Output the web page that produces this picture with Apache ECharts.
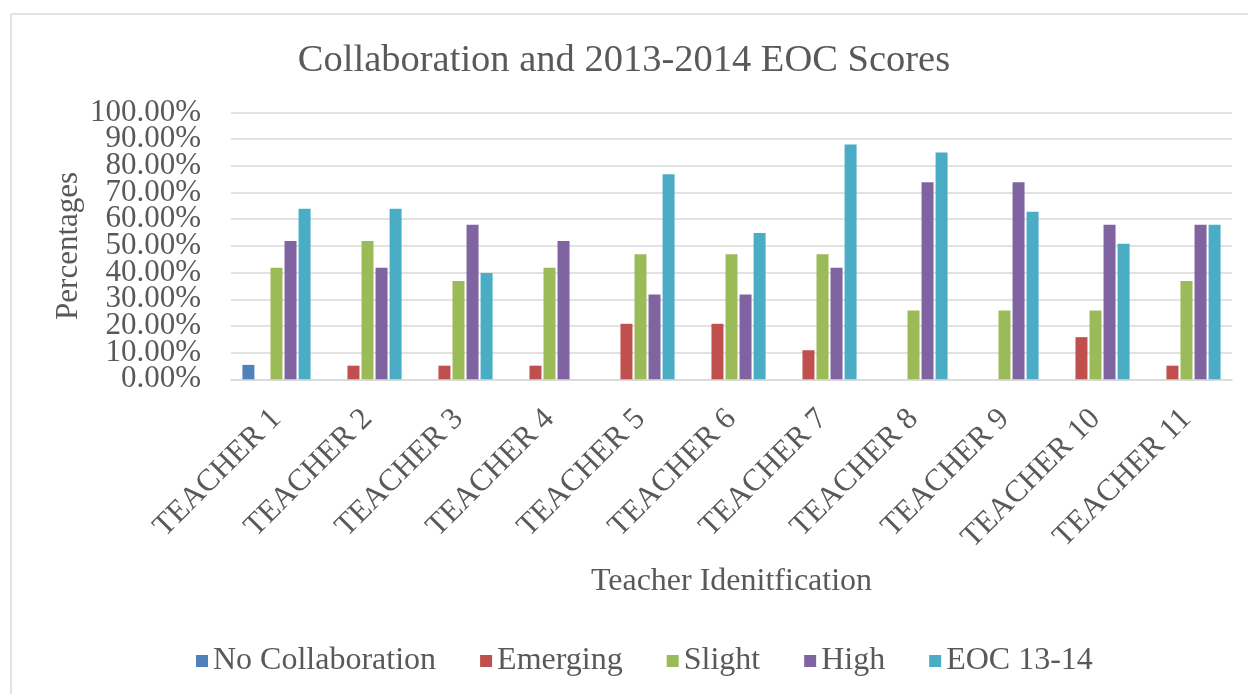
<!DOCTYPE html>
<html>
<head>
<meta charset="utf-8">
<script src="https://cdn.jsdelivr.net/npm/echarts@6/dist/echarts.min.js"></script>
<style>
html,body{margin:0;padding:0;background:#fff;}
#c{width:1248px;height:694px;}
</style>
</head>
<body>
<div id="c"></div>
<script>
const categories = ['TEACHER 1','TEACHER 2','TEACHER 3','TEACHER 4','TEACHER 5','TEACHER 6','TEACHER 7','TEACHER 8','TEACHER 9','TEACHER 10','TEACHER 11'];
const noCollaboration = [5.4, 0, 0, 0, 0, 0, 0, 0, 0, 0, 0];
const emerging = [0, 5.1, 5.1, 5.1, 20.8, 20.8, 10.9, 0, 0, 15.8, 5.1];
const slight = [41.8, 51.8, 36.8, 41.8, 46.9, 46.9, 46.9, 25.8, 25.8, 25.8, 36.8];
const high = [51.8, 41.8, 57.9, 51.8, 31.8, 31.8, 41.8, 73.9, 73.9, 57.9, 57.9];
const eoc = [63.9, 63.9, 39.8, 0, 76.9, 54.8, 88.0, 85.0, 62.8, 50.8, 57.9];
const seriesNames = ['No Collaboration','Emerging','Slight','High','EOC 13-14'];
const seriesColors = ['#4F81BD','#C0504D','#9BBB59','#8064A2','#4BACC6'];
const seriesData = [noCollaboration, emerging, slight, high, eoc];
const yMin = 0, yMax = 100, yStep = 10;

const font = 'Liberation Serif';
const txt = '#595959';
const pct = v => v.toFixed(2) + '%';
const yLabelStyle = {margin: 30, fontFamily: font, fontSize: 31, color: txt, formatter: pct};

const chart = echarts.init(document.getElementById('c'), null, {renderer:'canvas'});
chart.setOption({
  animation: false,
  backgroundColor: '#fff',
  textStyle: {fontFamily: font},
  title: {
    text: 'Collaboration and 2013-2014 EOC Scores',
    left: 'center',
    top: 36,
    textStyle: {fontFamily: font, fontSize: 38.5, fontWeight: 'normal', color: txt}
  },
  legend: {
    left: 196,
    top: 645,
    padding: 0,
    itemWidth: 12,
    itemHeight: 12,
    itemGap: 44,
    icon: 'rect',
    textStyle: {fontFamily: font, fontSize: 32, color: txt},
    data: seriesNames
  },
  grid: {left: 231, right: 16, top: 112.5, bottom: 314.7},
  xAxis: {
    type: 'category',
    data: categories,
    axisLine: {lineStyle: {color: '#d9d9d9', width: 1.5}},
    axisTick: {show: false},
    axisLabel: {rotate: 45, margin: 35, fontFamily: font, fontSize: 31, color: txt, interval: 0},
    name: 'Teacher Idenitfication',
    nameLocation: 'middle',
    nameGap: 186,
    nameTextStyle: {fontFamily: font, fontSize: 32, color: txt}
  },
  yAxis: [
    {
      type: 'value',
      position: 'left',
      min: yMin, max: yMax, interval: yStep,
      axisLine: {show: false},
      axisTick: {show: false},
      splitLine: {lineStyle: {color: '#d9d9d9', width: 1.5}},
      axisLabel: Object.assign({showMinLabel: false, showMaxLabel: false}, yLabelStyle),
      name: 'Percentages',
      nameLocation: 'middle',
      nameGap: 147,
      nameTextStyle: {fontFamily: font, fontSize: 31, color: txt}
    },
    {
      type: 'value',
      position: 'left',
      offset: 0,
      min: yMin, max: yMax, interval: yMax - yMin,
      axisLine: {show: false},
      axisTick: {show: false},
      splitLine: {show: false},
      axisLabel: Object.assign({showMinLabel: true, showMaxLabel: true}, yLabelStyle)
    }
  ],
  graphic: [
    {type: 'line', shape: {x1: 11, y1: 14, x2: 1248, y2: 14}, style: {stroke: '#d9d9d9', lineWidth: 1.5}},
    {type: 'line', shape: {x1: 11, y1: 14, x2: 11, y2: 694}, style: {stroke: '#d9d9d9', lineWidth: 1.5}}
  ],
  series: seriesNames.map((n, i) => ({
    name: n,
    type: 'bar',
    yAxisIndex: 0,
    data: seriesData[i],
    barWidth: 12,
    barGap: '17%',
    itemStyle: {color: seriesColors[i]}
  }))
});
</script>
</body>
</html>
